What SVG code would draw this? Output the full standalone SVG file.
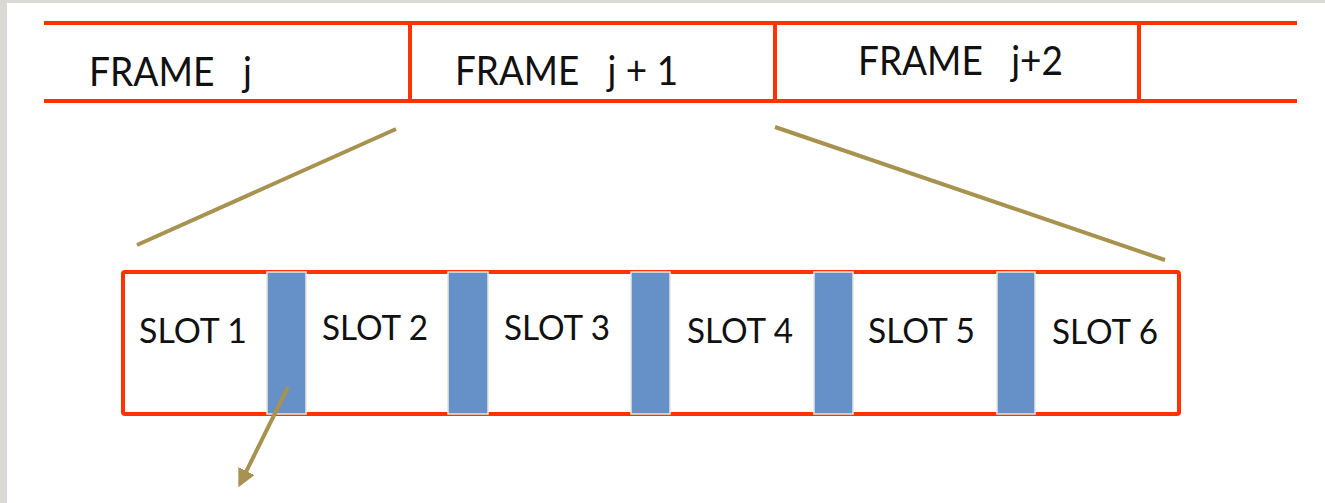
<svg xmlns="http://www.w3.org/2000/svg" width="1325" height="503" viewBox="0 0 1325 503">
<style>
.red{stroke:#ff3300;stroke-width:4;fill:none;stroke-linecap:square}
.olive{stroke:#a8924f;stroke-width:4;fill:none}
.bar{fill:#6690c8;stroke:#e8e6dc;stroke-width:1.5}
.ft{font-family:Lato,"Open Sans",sans-serif;font-size:40px;fill:#111}
.st{font-family:Lato,"Open Sans",sans-serif;font-size:35px;fill:#111}
</style>
<defs>
<marker id="ah" viewBox="0 0 10 10" refX="8" refY="5" markerWidth="4.5" markerHeight="4.5" orient="auto" markerUnits="strokeWidth">
<path d="M0,0 L10,5 L0,10 z" fill="#a8924f"/>
</marker>
</defs>
<rect x="0" y="0" width="1325" height="503" fill="#ffffff"/>
<rect x="0" y="0" width="7" height="503" fill="#dbd9d4"/>
<rect x="0" y="0" width="1325" height="3" fill="#dbd9d4"/>
<g id="frames">
<line class="red" x1="46" y1="23" x2="1295" y2="23"/>
<line class="red" x1="46" y1="101" x2="1295" y2="101"/>
<line class="red" x1="410" y1="23" x2="410" y2="101"/>
<line class="red" x1="775" y1="23" x2="775" y2="101"/>
<line class="red" x1="1139" y1="23" x2="1139" y2="101"/>
</g>
<g id="frame-j"><text class="ft" x="89" y="86" textLength="163" lengthAdjust="spacingAndGlyphs" xml:space="preserve">FRAME   j</text></g>
<g id="frame-j1"><text class="ft" x="455" y="85" textLength="223" lengthAdjust="spacingAndGlyphs" xml:space="preserve">FRAME   j + 1</text></g>
<g id="frame-j2"><text class="ft" x="858" y="75" textLength="205" lengthAdjust="spacingAndGlyphs" xml:space="preserve">FRAME   j+2</text></g>
<g id="slots">
<rect class="red" x="123" y="272" width="1056" height="142" rx="2"/>
<rect class="bar" x="267" y="272" width="39" height="142"/>
<rect class="bar" x="448" y="272" width="40" height="142"/>
<rect class="bar" x="631" y="272" width="39" height="142"/>
<rect class="bar" x="814" y="272" width="39" height="142"/>
<rect class="bar" x="997" y="272" width="38" height="142"/>
</g>
<g id="slot1"><text class="st" x="139" y="343" textLength="108" lengthAdjust="spacingAndGlyphs">SLOT 1</text></g>
<g id="slot2"><text class="st" x="322" y="340" textLength="106" lengthAdjust="spacingAndGlyphs">SLOT 2</text></g>
<g id="slot3"><text class="st" x="504" y="340" textLength="106" lengthAdjust="spacingAndGlyphs">SLOT 3</text></g>
<g id="slot4"><text class="st" x="687" y="343" textLength="106" lengthAdjust="spacingAndGlyphs">SLOT 4</text></g>
<g id="slot5"><text class="st" x="868" y="343" textLength="107" lengthAdjust="spacingAndGlyphs">SLOT 5</text></g>
<g id="slot6"><text class="st" x="1052" y="344" textLength="106" lengthAdjust="spacingAndGlyphs">SLOT 6</text></g>
<g id="connectors">
<line class="olive" x1="396" y1="129" x2="137" y2="245"/>
<line class="olive" x1="775" y1="127" x2="1165" y2="260"/>
<line class="olive" x1="288" y1="387" x2="240" y2="484" marker-end="url(#ah)"/>
</g>
</svg>
